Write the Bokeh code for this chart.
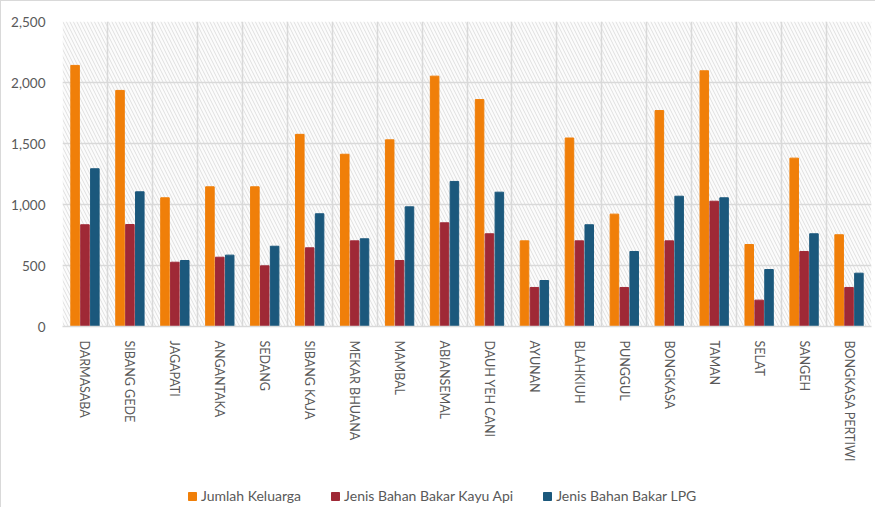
from bokeh.plotting import figure
from bokeh.models import (ColumnDataSource, FixedTicker, NumeralTickFormatter, Range1d,
                          Legend, LegendItem, BoxAnnotation)
from bokeh.layouts import column
from bokeh.transform import dodge
from bokeh.embed import file_html
from bokeh.resources import INLINE
import math

desa = ["DARMASABA", "SIBANG GEDE", "JAGAPATI", "ANGANTAKA", "SEDANG", "SIBANG KAJA",
        "MEKAR BHUANA", "MAMBAL", "ABIANSEMAL", "DAUH YEH CANI", "AYUNAN", "BLAHKIUH",
        "PUNGGUL", "BONGKASA", "TAMAN", "SELAT", "SANGEH", "BONGKASA PERTIWI"]
jumlah_keluarga = [2140, 1935, 1055, 1145, 1145, 1575, 1412, 1530, 2052, 1860, 702, 1545,
                   921, 1770, 2096, 672, 1380, 752]
kayu_api = [834, 836, 527, 568, 497, 645, 702, 541, 850, 760, 320, 702,
            320, 702, 1027, 216, 615, 320]
lpg = [1293, 1104, 541, 585, 658, 924, 719, 981, 1189, 1101, 377, 834,
       615, 1068, 1055, 467, 760, 437]
y_ticks = [0, 500, 1000, 1500, 2000, 2500]
series_names = ["Jumlah Keluarga", "Jenis Bahan Bakar Kayu Api", "Jenis Bahan Bakar LPG"]
colors = ["#F07F09", "#9F2936", "#1B587C"]

idx = list(range(len(desa)))
src = ColumnDataSource(dict(x=idx, jk=jumlah_keluarga, ka=kayu_api, lpg=lpg))

FONT = "Lato"
TXT = "#595959"

p = figure(width=874, height=476, output_backend="svg", toolbar_location=None,
           x_range=Range1d(-0.5, len(desa) - 0.5), y_range=Range1d(0, 2500),
           min_border_left=61, min_border_right=4, min_border_top=20, min_border_bottom=151)
p.outline_line_color = None
p.background_fill_color = "white"

bg = BoxAnnotation(fill_color="#f8f8f8", hatch_pattern="\\", hatch_color="#e0e0e0",
                   hatch_scale=7, hatch_weight=1, line_color=None, level="image")
p.add_layout(bg)

w = 0.19
p.vbar(x=dodge("x", -0.22, range=p.x_range), top="jk", width=w, source=src,
       fill_color=colors[0], line_color=colors[0])
p.vbar(x=dodge("x", 0.0, range=p.x_range), top="ka", width=w, source=src,
       fill_color=colors[1], line_color=colors[1])
p.vbar(x=dodge("x", 0.22, range=p.x_range), top="lpg", width=w, source=src,
       fill_color=colors[2], line_color=colors[2])

# axes
p.yaxis.ticker = FixedTicker(ticks=y_ticks)
p.yaxis.formatter = NumeralTickFormatter(format="0,0")
p.yaxis.axis_line_color = None
p.yaxis.major_tick_line_color = None
p.yaxis.minor_tick_line_color = None
p.yaxis.major_label_text_font = FONT
p.yaxis.major_label_text_font_size = "13.5px"
p.yaxis.major_label_text_color = TXT
p.yaxis.major_label_standoff = 11

p.xaxis.ticker = FixedTicker(ticks=idx)
p.xaxis.major_label_overrides = {i: d for i, d in zip(idx, desa)}
p.xaxis.major_label_orientation = -math.pi / 2
p.xaxis.axis_line_color = "#d9d9d9"
p.xaxis.axis_line_width = 1.5
p.xaxis.major_tick_line_color = None
p.xaxis.minor_tick_line_color = None
p.xaxis.major_label_text_font = FONT
p.xaxis.major_label_text_font_size = "12.5px"
p.xaxis.major_label_text_color = TXT
p.xaxis.major_label_standoff = 8

p.ygrid.grid_line_color = "#d9d9d9"
p.ygrid.grid_line_width = 1.5
p.xgrid.ticker = FixedTicker(ticks=[i - 0.5 for i in idx] + [len(desa) - 0.5])
p.xgrid.grid_line_color = "#d9d9d9"
p.xgrid.grid_line_width = 1.5

# legend strip (swatch glyphs placed outside the strip's visible range)
lg = figure(width=874, height=30, output_backend="svg", toolbar_location=None,
            x_range=Range1d(0, 1), y_range=Range1d(0, 1),
            min_border=0, outline_line_color=None)
lg.axis.visible = False
lg.grid.visible = False
items = []
for name, c in zip(series_names, colors):
    r = lg.vbar(x=[-5], top=[-5], bottom=[-6], width=0.1, fill_color=c, line_color=c)
    items.append(LegendItem(label=name, renderers=[r]))
legend = Legend(items=items, orientation="horizontal", location=(125, 3))
legend.label_text_font = FONT
legend.label_text_font_size = "14px"
legend.label_text_color = TXT
legend.glyph_width = 10
legend.glyph_height = 10
legend.label_standoff = 4
legend.spacing = 29
legend.padding = 4
legend.margin = 0
legend.border_line_color = None
legend.background_fill_alpha = 0
lg.add_layout(legend)

layout = column(p, lg, spacing=0)
layout.styles = {"border-left": "1px solid #d9d9d9", "border-top": "1px solid #d9d9d9"}

open("out.html", "w").write(file_html(layout, INLINE))
